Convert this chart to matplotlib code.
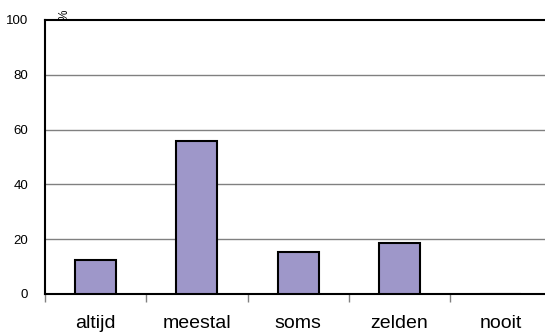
import matplotlib.pyplot as plt
import numpy as np

plt.rcParams['font.family'] = ['Liberation Sans', 'DejaVu Sans']

categories = ['altijd', 'meestal', 'soms', 'zelden', 'nooit']
values = [12.4, 56.0, 15.5, 18.6, 0]
yticks = [0, 20, 40, 60, 80, 100]

fig = plt.figure(figsize=(5.45, 3.34), dpi=100)
# plot area: left 45px, bottom 294px, top 20px, 5 categories of ~101.3px
ax = fig.add_axes([45 / 545, (334 - 294) / 334, 506.5 / 545, 274 / 334])

x = np.arange(len(categories))
ax.bar(x, values, width=0.405, color='#9e97c9', edgecolor='black', linewidth=1.5, zorder=3)

ax.set_xlim(-0.5, len(categories) - 0.5)
ax.set_ylim(0, 100)
ax.set_yticks(yticks)
ax.set_yticklabels([str(v) for v in yticks], fontsize=9.5)
for v in yticks[1:-1]:
    ax.axhline(v, color='#808080', linewidth=1, zorder=1)
ax.axhline(100, color='black', linewidth=1.5, zorder=2, clip_on=False)

ax.set_xticks(x)
ax.set_xticklabels(categories, fontsize=14)
ax.set_xticks(np.arange(-0.5, len(categories) - 0.5), minor=True)
ax.tick_params(axis='x', which='major', length=0, pad=15)
ax.tick_params(axis='x', which='minor', length=6, width=1, color='#808080', direction='out')
ax.tick_params(axis='y', length=0, pad=12)

for s in ['top', 'right']:
    ax.spines[s].set_visible(False)
ax.spines['left'].set_linewidth(1.5)
ax.spines['bottom'].set_linewidth(1.5)

fig.text(65 / 545, 1 - 15 / 334, '%', fontsize=8.5, rotation=90, ha='center', va='center')

fig.savefig('out.png', dpi=100)
